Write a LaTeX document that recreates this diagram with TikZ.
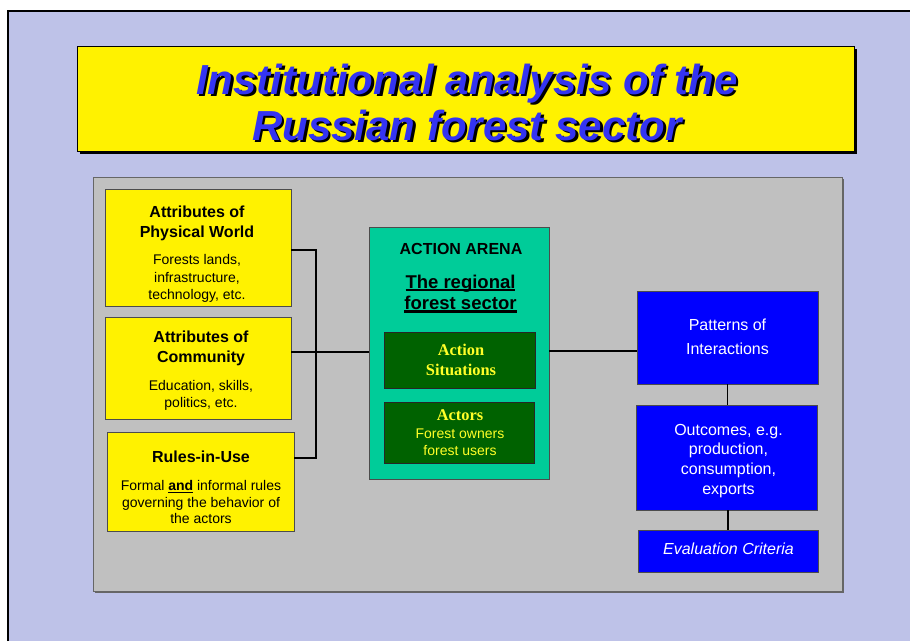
\documentclass[tikz,border=0pt]{standalone}
\usepackage{fontspec}
\setmainfont{Liberation Sans}
\newfontfamily\tnr{Liberation Serif}
\usetikzlibrary{shadows}
\definecolor{bgl}{RGB}{190,194,232}
\definecolor{ttl}{RGB}{52,52,242}
\definecolor{panelg}{RGB}{192,192,192}
\definecolor{arenag}{RGB}{0,204,153}
\definecolor{dkg}{RGB}{0,98,0}
\definecolor{ytxt}{RGB}{255,255,40}
\definecolor{bblue}{RGB}{0,0,255}
\newcommand\myulthick[1]{\setbox0\hbox{#1}\rlap{\rule[-3.2pt]{\wd0}{2.3pt}}\box0\relax}
\newcommand\myulthin[1]{\setbox0\hbox{#1}\rlap{\rule[-2.2pt]{\wd0}{1.3pt}}\box0\relax}
\newcommand\shadowtext[1]{\rlap{\raisebox{-2.5pt}{\kern2.5pt\color{black}#1}}{\color{ttl}#1}}
\newcommand\txtline[5]{\node[anchor=base,inner sep=0pt,font=#4] (#1) at (#2,#3) {#5};}
\tikzset{
  boxbase/.style={draw=black!70, line width=0.9pt, inner sep=0pt},
  ybox/.style={boxbase, fill=yellow},
  bbox/.style={boxbase, fill=bblue},
  gbox/.style={boxbase, draw=black!85, fill=dkg},
  conn/.style={line width=1.3pt, black},
}
\newcommand\fbold{\fontsize{16}{20}\selectfont\bfseries}
\newcommand\freg{\fontsize{14}{17}\selectfont}
\newcommand\fmid{\fontsize{16}{20}\selectfont}
\newcommand\fttl{\fontsize{42}{46}\selectfont\bfseries\itshape}
\begin{document}
\begin{tikzpicture}[x=1pt,y=-1pt]
\path[use as bounding box] (0,0) rectangle (910,641);
\fill[white] (0,0) rectangle (910,641);
\fill[bgl] (8,11) rectangle (910,641);
\draw[line width=2pt] (8,641) -- (8,11) -- (910,11);

% title
\node[draw=black, line width=0.8pt, fill=yellow, minimum width=777pt, minimum height=105pt, inner sep=0pt,
      drop shadow={shadow xshift=3pt, shadow yshift=-3pt, fill=black, opacity=1}] (title) at (465.5,98.5) {};
\txtline{t1}{467}{94}{\fttl}{\shadowtext{Institutional analysis of the}}
\txtline{t2}{467}{140}{\fttl}{\shadowtext{Russian forest sector}}

% panel
\node[draw=black!60, line width=1pt, fill=panelg, minimum width=749pt, minimum height=414pt, inner sep=0pt,
      drop shadow={shadow xshift=1.5pt, shadow yshift=-1.5pt, fill=black!60, opacity=1}] (panel) at (467.5,384) {};

% left boxes
\node[ybox, minimum width=186pt, minimum height=117pt] (phys) at (198,247.5) {};
\node[ybox, minimum width=186pt, minimum height=102pt] (comm) at (198,368) {};
\node[ybox, minimum width=187pt, minimum height=99pt] (rules) at (200.5,481.5) {};

\txtline{p1}{197}{217}{\fbold}{Attributes of}
\txtline{p2}{197}{237}{\fbold}{Physical World}
\txtline{p3}{197}{264.6}{\freg}{Forests lands,}
\txtline{p4}{197}{282.3}{\freg}{infrastructure,}
\txtline{p5}{197}{299.6}{\freg}{technology, etc.}

\txtline{c1}{201}{342}{\fbold}{Attributes of}
\txtline{c2}{201}{362}{\fbold}{Community}
\txtline{c3}{201}{390.6}{\freg}{Education, skills,}
\txtline{c4}{201}{407.6}{\freg}{politics, etc.}

\txtline{r1}{201}{462}{\fbold}{Rules-in-Use}
\txtline{r2}{201}{490.6}{\freg}{Formal \myulthin{\bfseries and} informal rules}
\txtline{r3}{201}{507.3}{\freg}{governing the behavior of}
\txtline{r4}{201}{523.9}{\freg}{the actors}

% action arena
\node[boxbase, fill=arenag, minimum width=180pt, minimum height=252pt] (arena) at (459,353) {};
\txtline{a1}{461}{254}{\fbold}{ACTION ARENA}
\txtline{a2}{460.5}{288}{\fontsize{18.5}{21}\selectfont\bfseries}{\myulthick{The regional}}
\txtline{a3}{460.5}{309.5}{\fontsize{18.5}{21}\selectfont\bfseries}{\myulthick{forest sector}}

\node[gbox, minimum width=151pt, minimum height=56pt] (sit) at (459.5,360) {};
\txtline{s1}{461}{355.4}{\tnr\fontsize{16.4}{20}\selectfont\bfseries\color{ytxt}}{Action}
\txtline{s2}{461}{375.4}{\tnr\fontsize{16.4}{20}\selectfont\bfseries\color{ytxt}}{Situations}

\node[gbox, minimum width=150pt, minimum height=61pt] (actors) at (459,432.5) {};
\txtline{ac1}{460}{420}{\tnr\fontsize{16.4}{20}\selectfont\bfseries\color{ytxt}}{Actors}
\txtline{ac2}{460}{438.3}{\freg\color{ytxt}}{Forest owners}
\txtline{ac3}{460}{455}{\freg\color{ytxt}}{forest users}

% right boxes
\node[bbox, minimum width=181pt, minimum height=93pt] (patt) at (727.5,337.5) {};
\txtline{pa1}{727.5}{330.5}{\fmid\color{white}}{Patterns of}
\txtline{pa2}{727.5}{354}{\fmid\color{white}}{Interactions}

\node[bbox, minimum width=181pt, minimum height=105pt] (outc) at (726.5,457.5) {};
\txtline{o1}{728.5}{435.5}{\fmid\color{white}}{Outcomes, e.g.}
\txtline{o2}{728.5}{454.8}{\fmid\color{white}}{production,}
\txtline{o3}{728.5}{474.6}{\fmid\color{white}}{consumption,}
\txtline{o4}{728.5}{494.3}{\fmid\color{white}}{exports}

\node[bbox, minimum width=180pt, minimum height=42pt] (eval) at (728,551) {};
\txtline{e1}{728.5}{554}{\fmid\itshape\color{white}}{Evaluation Criteria}

% connectors
\coordinate (j1) at (316,250);
\coordinate (j2) at (316,458);
\coordinate (j3) at (330,352);
\coordinate (j4) at (600,351);
\draw[conn] (phys.east |- j1) -- (j1) -- (j2) -- (rules.east |- j2);
\draw[conn] (comm.east |- j3) -- (arena.west |- j3);
\draw[conn] (arena.east |- j4) -- (patt.west |- j4);
\draw[conn] (patt.south) -- (patt.south |- outc.north);
\draw[conn] ([xshift=1.5pt]outc.south) -- ([xshift=1.5pt]outc.south |- eval.north);
\end{tikzpicture}
\end{document}
